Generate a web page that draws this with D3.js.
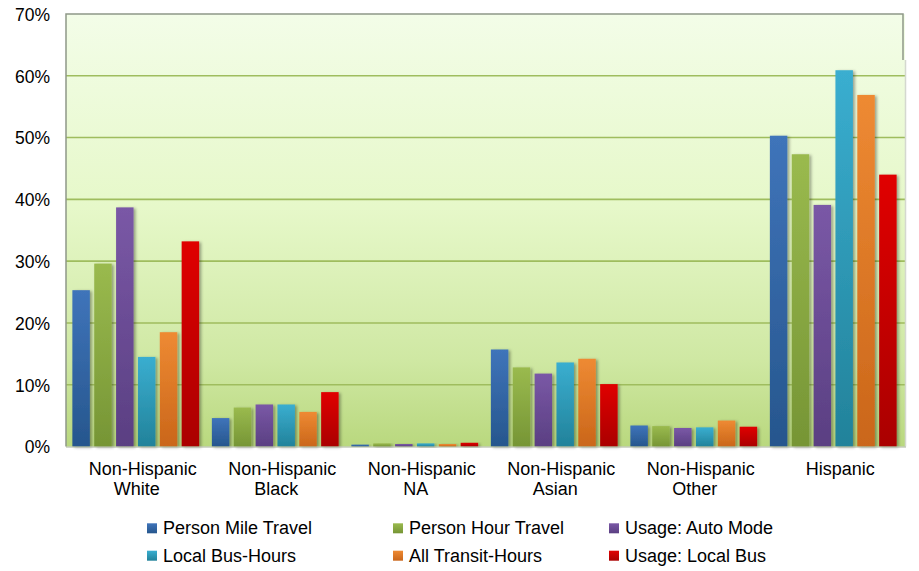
<!DOCTYPE html>
<html>
<head>
<meta charset="utf-8">
<script src="https://cdn.jsdelivr.net/npm/d3@7"></script>
<style>
  html, body { margin: 0; padding: 0; background: #ffffff; }
  svg { display: block; font-family: "Liberation Sans", Arial, sans-serif; }
</style>
</head>
<body>
<svg id="chart" width="919" height="571"></svg>
<script>
// Category labels (one array entry per text line)
const categories = [
  ["Non-Hispanic", "White"],
  ["Non-Hispanic", "Black"],
  ["Non-Hispanic", "NA"],
  ["Non-Hispanic", "Asian"],
  ["Non-Hispanic", "Other"],
  ["Hispanic"]
];

const seriesNames = [
  "Person Mile Travel",
  "Person Hour Travel",
  "Usage: Auto Mode",
  "Local Bus-Hours",
  "All Transit-Hours",
  "Usage: Local Bus"
];

// Shares in percent, one array per series, ordered like categories
const personMileTravel = [25.3, 4.6, 0.3, 15.7, 3.4, 50.3];
const personHourTravel = [29.6, 6.3, 0.5, 12.8, 3.3, 47.3];
const usageAutoMode    = [38.7, 6.8, 0.4, 11.8, 3.0, 39.1];
const localBusHours    = [14.5, 6.8, 0.5, 13.6, 3.1, 60.9];
const allTransitHours  = [18.5, 5.6, 0.4, 14.2, 4.2, 56.9];
const usageLocalBus    = [33.2, 8.8, 0.6, 10.1, 3.2, 44.0];

const yTicks = [0, 10, 20, 30, 40, 50, 60, 70];

const seriesValues = [personMileTravel, personHourTravel, usageAutoMode,
                      localBusHours, allTransitHours, usageLocalBus];

// gradient stops per series: [top, bottom]
const seriesColors = [
  ["#3f74ba", "#26568d"],
  ["#9aba4e", "#769535"],
  ["#7a58a6", "#5a3f82"],
  ["#3aaed0", "#22829a"],
  ["#ee8a33", "#ca661a"],
  ["#e00303", "#aa0000"]
];

const svg = d3.select("#chart");
const plot = { left: 66, right: 903, top: 14, bottom: 446.5 };

const defs = svg.append("defs");

const bg = defs.append("linearGradient").attr("id", "plotBg")
  .attr("x1", 0).attr("y1", 0).attr("x2", 0).attr("y2", 1);
bg.append("stop").attr("offset", "0%").attr("stop-color", "#f3fde8");
bg.append("stop").attr("offset", "45%").attr("stop-color", "#e6f8c9");
bg.append("stop").attr("offset", "80%").attr("stop-color", "#cfe8a3");
bg.append("stop").attr("offset", "100%").attr("stop-color", "#b9d87e");

seriesColors.forEach((c, i) => {
  const g = defs.append("linearGradient").attr("id", "bar" + i)
    .attr("x1", 0).attr("y1", 0).attr("x2", 0).attr("y2", 1);
  g.append("stop").attr("offset", "0%").attr("stop-color", c[0]);
  g.append("stop").attr("offset", "100%").attr("stop-color", c[1]);
});

const shadow = defs.append("filter").attr("id", "barShadow")
  .attr("x", "-30%").attr("y", "-10%").attr("width", "160%").attr("height", "130%");
shadow.append("feDropShadow").attr("dx", 2).attr("dy", 1).attr("stdDeviation", 1.6)
  .attr("flood-color", "#000").attr("flood-opacity", 0.35);

// Scales
const x0 = d3.scaleBand()
  .domain(d3.range(categories.length))
  .range([plot.left, plot.right])
  .padding(0);

const x1 = d3.scaleBand()
  .domain(d3.range(seriesNames.length))
  .range([2, x0.bandwidth() - 2])
  .padding(0.2);

const y = d3.scaleLinear().domain([0, 70]).range([plot.bottom, plot.top]);

// Plot background
svg.append("rect")
  .attr("x", plot.left).attr("y", plot.top)
  .attr("width", plot.right - plot.left + 2)
  .attr("height", plot.bottom - plot.top)
  .attr("fill", "url(#plotBg)");

// Gridlines
svg.append("g")
  .selectAll("line")
  .data(yTicks.filter(t => t > 0 && t < 70))
  .join("line")
  .attr("x1", plot.left).attr("x2", plot.right + 2)
  .attr("y1", d => y(d)).attr("y2", d => y(d))
  .attr("stroke", "#9fbd5e").attr("stroke-width", 1.6);

// Bars
const groups = svg.append("g")
  .selectAll("g")
  .data(categories)
  .join("g")
  .attr("transform", (d, i) => `translate(${x0(i)},0)`);

groups.selectAll("rect")
  .data((d, ci) => seriesValues.map((vals, si) => ({ si, v: vals[ci] })))
  .join("rect")
  .attr("x", d => x1(d.si))
  .attr("y", d => y(d.v))
  .attr("width", x1.bandwidth())
  .attr("height", d => y(0) - y(d.v))
  .attr("fill", d => `url(#bar${d.si})`)
  .attr("filter", "url(#barShadow)");

// Plot border (left, top, right stub, bottom)
const border = svg.append("g").attr("fill", "none");
border.append("path")
  .attr("d", `M${plot.left},${plot.bottom} V${plot.top} H${plot.right} V60`)
  .attr("stroke", "#8f9888").attr("stroke-width", 1.5);
border.append("line")
  .attr("x1", plot.right + 2.5).attr("x2", plot.right + 2.5)
  .attr("y1", 60).attr("y2", plot.bottom)
  .attr("stroke", "#d4d8cf").attr("stroke-width", 1.5);
border.append("line")
  .attr("x1", plot.left).attr("x2", plot.right + 3)
  .attr("y1", plot.bottom + 0.5).attr("y2", plot.bottom + 0.5)
  .attr("stroke", "#a8b29a").attr("stroke-width", 1);

// Y axis labels
const yAxis = d3.axisLeft(y)
  .tickValues(yTicks)
  .tickFormat(d => d + "%")
  .tickSize(0)
  .tickPadding(16);

const yg = svg.append("g")
  .attr("transform", `translate(${plot.left},0)`)
  .call(yAxis);
yg.select(".domain").remove();
yg.selectAll("text")
  .attr("font-family", "Liberation Sans, Arial, sans-serif")
  .attr("font-size", 17.5)
  .attr("fill", "#000")
  .attr("dy", "0.36em");

// Category labels
const catLabels = svg.append("g")
  .attr("font-size", 18)
  .attr("fill", "#000")
  .attr("text-anchor", "middle");

categories.forEach((lines, i) => {
  const cx = x0(i) + x0.bandwidth() / 2;
  lines.forEach((t, li) => {
    catLabels.append("text")
      .attr("x", cx + (li === 0 ? 7 : 1))
      .attr("y", 475 + li * 20)
      .text(t);
  });
});

// Legend
const legendCols = [163, 409, 625];
const legendRows = [534.3, 561.7];
const legend = svg.append("g").attr("font-size", 18).attr("fill", "#000");

seriesNames.forEach((name, i) => {
  const col = i % 3, row = Math.floor(i / 3);
  const lx = legendCols[col], ly = legendRows[row];
  legend.append("rect")
    .attr("x", lx - 16).attr("y", ly - 11)
    .attr("width", 10).attr("height", 10)
    .attr("fill", `url(#bar${i})`);
  legend.append("text")
    .attr("x", lx).attr("y", ly)
    .text(name);
});
</script>
</body>
</html>
